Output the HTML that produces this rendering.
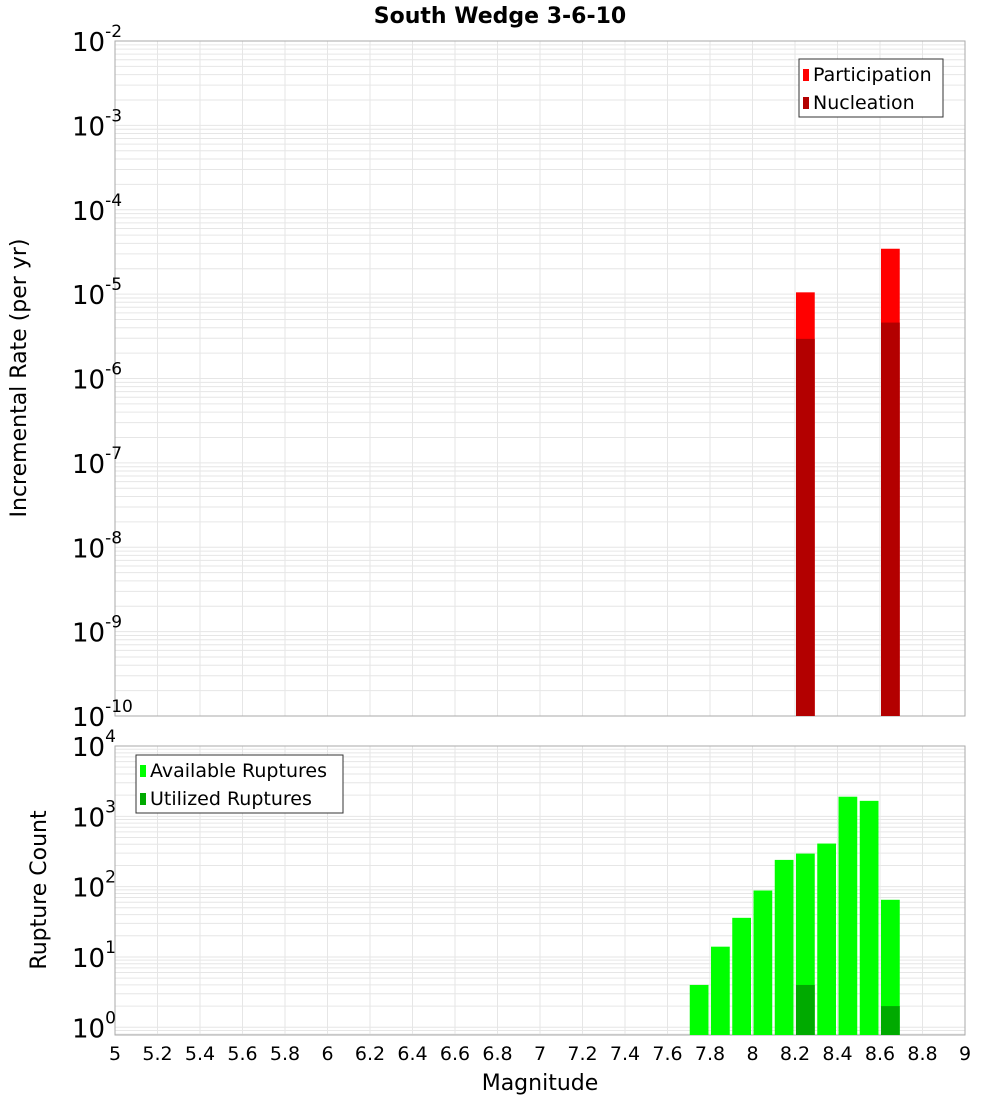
<!DOCTYPE html>
<html><head><meta charset="utf-8"><style>
body{margin:0;background:#fff;font-family:"Liberation Sans","DejaVu Sans",sans-serif}
svg text{font-family:"DejaVu Sans","Liberation Sans",sans-serif}
</style></head><body>
<svg id="chart" width="1000" height="1100" xmlns="http://www.w3.org/2000/svg">
<text x="500" y="23" text-anchor="middle" font-size="22" font-weight="bold">South Wedge 3-6-10</text>
<g id="topPanel"></g><g id="botPanel"></g>
</svg>
<script>
const binStarts=[7.7,7.8,7.9,8.0,8.1,8.2,8.3,8.4,8.5,8.6];
const availableCounts=[4,14,36,88,240,295,410,1900,1660,65];
const utilizedBins=[8.2,8.6];
const utilizedCounts=[4,2];
const rateBins=[8.2,8.6];
const participationRates=[1.05e-5,3.45e-5];
const nucleationRates=[2.95e-6,4.6e-6];
const xTicks=[5,5.2,5.4,5.6,5.8,6,6.2,6.4,6.6,6.8,7,7.2,7.4,7.6,7.8,8,8.2,8.4,8.6,8.8,9];
const NS="http://www.w3.org/2000/svg";
const X0=115,X1=965;
const xs=v=>X0+(v-5)/4*(X1-X0);
function mk(p,t,a){const e=document.createElementNS(NS,t);for(const k in a)e.setAttribute(k,a[k]);p.appendChild(e);return e;}
function panel(g,ptop,pbot,lmin,lmax,name){
  const ys=v=>pbot-(Math.log10(v)-lmin)/(lmax-lmin)*(pbot-ptop);
  for(let d=Math.floor(lmin);d<lmax;d++)for(let m=1;m<10;m++){const v=m*Math.pow(10,d);if(Math.log10(v)<lmin)continue;const y=ys(v);
    const l=mk(g,'line',{x1:X0,x2:X1,y1:y,y2:y,stroke:'#e6e6e6','stroke-width':1});
    
    }
  xTicks.forEach(t=>{const l=mk(g,'line',{x1:xs(t),x2:xs(t),y1:ptop,y2:pbot,stroke:'#e6e6e6'});
    
    });
  const r=mk(g,'rect',{x:X0,y:ptop,width:X1-X0,height:pbot-ptop,fill:'none',stroke:'#aaa'});
  
  
  for(let d=Math.ceil(lmin);d<=lmax;d++){const y=ys(Math.pow(10,d));
    const t=mk(g,'text',{x:72,y:y+10,'font-size':26});
    
    
    t.textContent='10';const s=mk(t,'tspan',{dy:-14,'font-size':17});s.textContent=String(d);}
  return ys;
}
const gTop=document.getElementById('topPanel'),gBot=document.getElementById('botPanel');
const ysT=panel(gTop,41,716,-10,-2,'rate');
const ysB=panel(gBot,746,1035,-0.11,4,'count');
function bar(g,v,val,ys,base,fill,name){
  const x=xs(v)+1,w=xs(v+0.1)-xs(v)-2.5,y=ys(val);
  const r=mk(g,'rect',{x:x,y:y,width:w,height:base-y,fill:fill});
  
  }
rateBins.forEach((v,i)=>bar(gTop,v,participationRates[i],ysT,716,'#ff0000','participation-bar'));
rateBins.forEach((v,i)=>bar(gTop,v,nucleationRates[i],ysT,716,'#b30000','nucleation-bar'));
binStarts.forEach((v,i)=>bar(gBot,v,availableCounts[i],ysB,1035,'#00ff00','available-bar'));
utilizedBins.forEach((v,i)=>bar(gBot,v,utilizedCounts[i],ysB,1035,'#00aa00','utilized-bar'));
xTicks.forEach(t=>{const e=mk(gBot,'text',{x:xs(t),y:1060,'text-anchor':'middle','font-size':19});
  
  
  e.textContent=String(t);});
function legend(g,x,y,w,items,name){
  const r=mk(g,'rect',{x:x,y:y,width:w,height:58,fill:'#fff',stroke:'#333'});
  
  
  items.forEach((it,i)=>{const s=mk(g,'rect',{x:x+4,y:y+10+i*28,width:6,height:12,fill:it[1]});
    
    
    const t=mk(g,'text',{x:x+14,y:y+22+i*28,'font-size':19});
    
    
    t.textContent=it[0];});
}
legend(gTop,799,59,144,[['Participation','#ff0000'],['Nucleation','#b30000']],'rate-legend');
legend(gBot,136,755,207,[['Available Ruptures','#00ff00'],['Utilized Ruptures','#00aa00']],'count-legend');
let tt=mk(gBot,'text',{x:540,y:1090,'text-anchor':'middle','font-size':22});


tt.textContent='Magnitude';
tt=mk(gTop,'text',{x:0,y:0,'text-anchor':'middle','font-size':22,transform:'translate(26,378) rotate(-90)'});


tt.textContent='Incremental Rate (per yr)';
tt=mk(gBot,'text',{x:0,y:0,'text-anchor':'middle','font-size':22,transform:'translate(46,890) rotate(-90)'});


tt.textContent='Rupture Count';
</script>
</body></html>
